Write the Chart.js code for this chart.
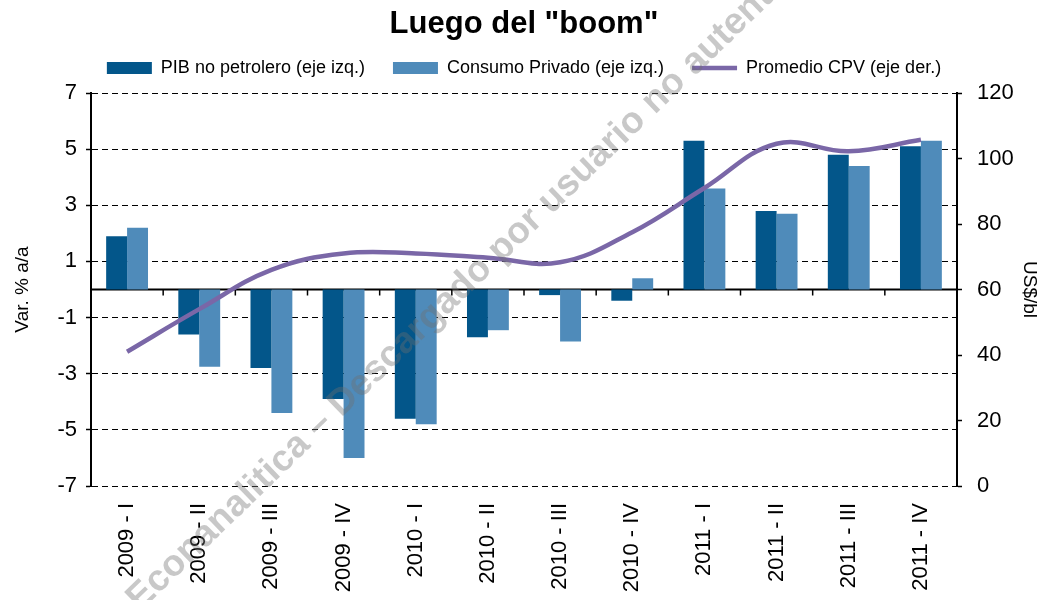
<!DOCTYPE html>
<html>
<head>
<meta charset="utf-8">
<title>Luego del "boom"</title>
<script src="https://cdn.jsdelivr.net/npm/chart.js@4"></script>
<style>
  html, body { margin: 0; padding: 0; background: #fff; }
  #wrap { width: 1048px; height: 600px; }
</style>
</head>
<body>
<div id="wrap"><canvas id="myChart" width="1048" height="600"></canvas></div>
<script>
// Datos - START
const labels = ['2009 - I', '2009 - II', '2009 - III', '2009 - IV',
  '2010 - I', '2010 - II', '2010 - III', '2010 - IV',
  '2011 - I', '2011 - II', '2011 - III', '2011 - IV'];
const pibNoPetrolero = [1.9, -1.6, -2.8, -3.9, -4.6, -1.7, -0.2, -0.4, 5.3, 2.8, 4.8, 5.1];
const consumoPrivado = [2.2, -2.75, -4.4, -6.0, -4.8, -1.45, -1.85, 0.4, 3.6, 2.7, 4.4, 5.3];
const promedioCPV = [41, 54, 66, 71, 71, 69.7, 68.3, 77.5, 91, 104.5, 102.2, 105.7];
const leftTicks = [-7, -5, -3, -1, 1, 3, 5, 7];
const rightTicks = [0, 20, 40, 60, 80, 100, 120];
// Datos - END

Chart.defaults.font.family = '"Liberation Sans", Arial, sans-serif';
Chart.defaults.color = '#000';
Chart.defaults.animation = false;

// linea del cero, marcas de categoria y marca de agua
const extras = {
  id: 'extras',
  beforeDatasetsDraw(chart) {
    const ctx = chart.ctx;
    const x = chart.scales.x;
    const y = chart.scales.y;
    const area = chart.chartArea;
    const y0 = y.getPixelForValue(0);
    ctx.save();
    ctx.strokeStyle = '#000';
    ctx.lineWidth = 2;
    ctx.beginPath();
    ctx.moveTo(area.left, y0);
    ctx.lineTo(area.right, y0);
    ctx.stroke();
    ctx.lineWidth = 1.5;
    for (let i = 1; i < labels.length; i++) {
      const bx = (x.getPixelForValue(i - 1) + x.getPixelForValue(i)) / 2;
      ctx.beginPath();
      ctx.moveTo(bx, y0);
      ctx.lineTo(bx, y0 + 6);
      ctx.stroke();
    }
    ctx.restore();
  },
  afterDatasetsDraw(chart) {
    const ctx = chart.ctx;
    ctx.save();
    ctx.translate(140, 612);
    ctx.rotate(-44 * Math.PI / 180);
    ctx.font = 'bold 37px "Liberation Sans", Arial, sans-serif';
    ctx.fillStyle = 'rgba(110, 110, 110, 0.38)';
    ctx.textBaseline = 'alphabetic';
    ctx.fillText('Econanalitica \u2013 Descargado por usuario no autenticado', 0, 0);
    ctx.restore();
  }
};

const data = {
  labels: labels,
  datasets: [{
    type: 'bar',
    label: 'PIB no petrolero (eje izq.)',
    data: pibNoPetrolero,
    backgroundColor: '#03568A',
    borderWidth: 0,
    yAxisID: 'y',
    order: 1,
    pointStyle: 'rect',
    categoryPercentage: 0.58,
    barPercentage: 1
  }, {
    type: 'bar',
    label: 'Consumo Privado (eje izq.)',
    data: consumoPrivado,
    backgroundColor: '#4F8BBA',
    borderWidth: 0,
    yAxisID: 'y',
    order: 1,
    pointStyle: 'rect',
    categoryPercentage: 0.58,
    barPercentage: 1
  }, {
    type: 'line',
    label: 'Promedio CPV (eje der.)',
    data: promedioCPV,
    borderColor: '#7A67A7',
    backgroundColor: '#7A67A7',
    borderWidth: 4.5,
    pointRadius: 0,
    pointStyle: 'line',
    tension: 0.4,
    yAxisID: 'y1',
    order: 0
  }]
};

const config = {
  type: 'bar',
  data: data,
  plugins: [extras],
  options: {
    responsive: false,
    layout: { padding: 0 },
    plugins: {
      title: {
        display: true,
        text: 'Luego del "boom"',
        font: { size: 31, weight: 'bold', lineHeight: 1 },
        padding: { top: 9, bottom: -9 }
      },
      legend: {
        display: true,
        labels: {
          usePointStyle: true,
          pointStyleWidth: 45,
          boxHeight: 12,
          padding: 28,
          font: { size: 18 },
          sort: (a, b) => a.datasetIndex - b.datasetIndex
        }
      },
      tooltip: { enabled: false }
    },
    scales: {
      sp: {
        type: 'category',
        position: 'top',
        grid: { display: false },
        border: { display: false },
        ticks: { display: false },
        afterFit(s) { s.height = 6; }
      },
      x: {
        position: 'bottom',
        grid: { display: false, drawTicks: false },
        border: { display: false },
        ticks: {
          autoSkip: false,
          minRotation: 90,
          maxRotation: 90,
          padding: 17,
          font: { size: 22 }
        },
        afterFit(s) { s.height = 114; }
      },
      y: {
        position: 'left',
        min: -7,
        max: 7,
        afterBuildTicks(s) { s.ticks = leftTicks.map(v => ({ value: v })); },
        grid: { color: '#000', lineWidth: 1, tickLength: 5, tickColor: '#000', tickWidth: 1.5 },
        border: { display: true, color: '#000', width: 2, dash: [6, 4] },
        ticks: { padding: 9, font: { size: 22 } },
        title: { display: true, text: 'Var. % a/a', font: { size: 19 }, padding: { top: 11, bottom: 0 } },
        afterFit(s) { s.width = 91; }
      },
      y1: {
        position: 'right',
        min: 0,
        max: 120,
        afterBuildTicks(s) { s.ticks = rightTicks.map(v => ({ value: v })); },
        grid: { drawOnChartArea: false, tickLength: 5, tickColor: '#000', tickWidth: 1.5 },
        border: { display: true, color: '#000', width: 2 },
        ticks: { padding: 15, font: { size: 22 } },
        title: { display: true, text: 'US$/bl', font: { size: 19 }, padding: { top: 7, bottom: 0 } },
        afterFit(s) { s.width = 91; }
      }
    }
  }
};

const myChart = new Chart(document.getElementById('myChart'), config);
</script>
</body>
</html>
